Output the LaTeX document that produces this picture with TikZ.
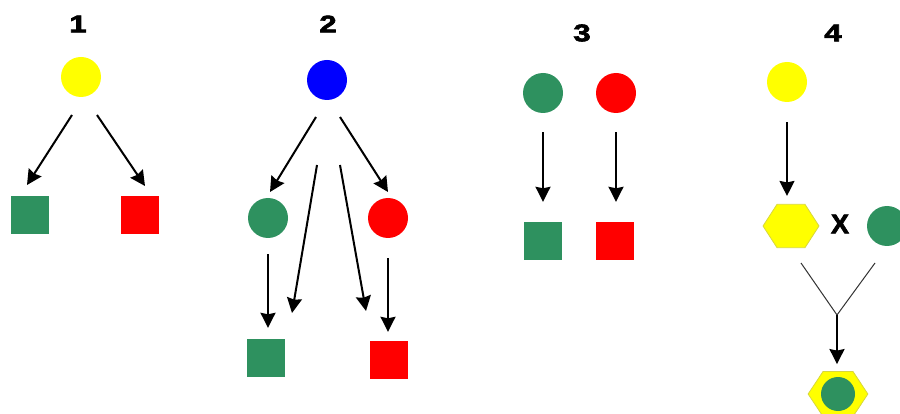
\documentclass[tikz,border=0pt]{standalone}
\usepackage{fontspec}
\setmainfont{Liberation Sans}
\newfontfamily\heavyfont[FakeBold=2.5]{Liberation Sans Bold}
\usetikzlibrary{shapes.geometric, arrows.meta, positioning, calc}
\definecolor{dotYellow}{RGB}{255, 255, 0}
\definecolor{dotGreen}{RGB}{46, 145, 95}
\definecolor{dotRed}{RGB}{255, 0, 0}
\definecolor{dotBlue}{RGB}{0, 0, 255}
\definecolor{hexEdge}{RGB}{215, 215, 60}
\newcommand{\wide}[1]{\scalebox{1.3}[1]{#1}}

\begin{document}
\begin{tikzpicture}[
    x=1pt, y=-1pt,
    dot/.style={
        circle,
        minimum size=40pt,
        inner sep=0pt
    },
    block/.style={
        rectangle,
        minimum size=38pt,
        inner sep=0pt
    },
    hexa/.style={
        regular polygon,
        regular polygon sides=6,
        minimum size=50pt,
        inner sep=0pt,
        fill=dotYellow,
        draw=hexEdge,
        line width=0.8pt,
        transform shape
    },
    num/.style={
        font=\fontsize{24}{24}\heavyfont,
        inner sep=0pt
    },
    arrow/.style={
        line width=2pt,
        -{Stealth[length=15pt, width=15pt, inset=1.5pt]}
    },
    forkline/.style={
        line width=1pt,
        draw=black!80
    }
]

\useasboundingbox (0,0) rectangle (900,414);

% Panel 1
\node[num] (n1) at (78,24) {\wide{1}};
\node[dot, fill=dotYellow] (y1) at (81,77) {};
\node[block, fill=dotGreen] (g1) at (30,215) {};
\node[block, fill=dotRed] (r1) at (140,215) {};
\coordinate (y1l) at (72,115);
\coordinate (g1t) at (27,185);
\coordinate (y1r) at (97,115);
\coordinate (r1t) at (145,186);
\draw[arrow] (y1l) -- (g1t);
\draw[arrow] (y1r) -- (r1t);

% Panel 2
\node[num] (n2) at (328,24) {\wide{2}};
\node[dot, fill=dotBlue] (b2) at (327,80) {};
\node[dot, fill=dotGreen] (g2) at (268,218) {};
\node[dot, fill=dotRed] (r2) at (388,218) {};
\node[block, fill=dotGreen] (gs2) at (266,358) {};
\node[block, fill=dotRed] (rs2) at (389,360) {};
\coordinate (b2l) at (316,117);
\coordinate (g2t) at (270,192);
\coordinate (b2r) at (340,117);
\coordinate (r2t) at (388,192);
\coordinate (b2ll) at (317,165);
\coordinate (gs2e) at (292,313);
\coordinate (b2rr) at (340,165);
\coordinate (rs2e) at (366,311);
\draw[arrow] (b2l) -- (g2t);
\draw[arrow] (b2r) -- (r2t);
\draw[arrow] (b2ll) -- (gs2e);
\draw[arrow] (b2rr) -- (rs2e);
\draw[arrow, shorten <=16pt, shorten >=11pt] (g2.south) -- (g2.south |- gs2.north);
\draw[arrow, shorten <=20pt, shorten >=9pt] (r2.south) -- (r2.south |- rs2.north);

% Panel 3
\node[num] (n3) at (582,33) {\wide{3}};
\node[dot, fill=dotGreen] (g3) at (543,93) {};
\node[dot, fill=dotRed] (r3) at (616,93) {};
\node[block, fill=dotGreen] (gs3) at (543,241) {};
\node[block, fill=dotRed] (rs3) at (615,241) {};
\draw[arrow, shorten <=19pt, shorten >=20pt] (g3.south) -- (g3.south |- gs3.north);
\draw[arrow, shorten <=19pt, shorten >=20pt] (r3.south) -- (r3.south |- rs3.north);

% Panel 4
\node[num] (n4) at (833,33) {\wide{4}};
\node[dot, fill=dotYellow] (y4) at (787,82) {};
\begin{scope}[shift={(791,226)}, xscale=1.12]
  \node[hexa] (h4) at (0,0) {};
\end{scope}
\node[num, font=\fontsize{27}{27}\heavyfont] (x4) at (840,224) {X};
\node[dot, fill=dotGreen] (g4) at (887,226) {};
\draw[arrow, shorten <=20pt, shorten >=8pt] (y4.south) -- (y4.south |- h4.north);

\coordinate (forkL) at (801,263);
\coordinate (forkR) at (875,263);
\coordinate (fork) at (837,315);
\draw[forkline] (forkL) -- (fork) -- (forkR);

\begin{scope}[shift={(838,394)}, xscale=1.15]
  \node[hexa, minimum size=52pt] (h5) at (0,0) {};
\end{scope}
\node[dot, fill=dotGreen, minimum size=34pt] (g5) at (h5.center) {};
\draw[arrow, shorten >=7pt] (fork) -- (fork |- h5.north);

\end{tikzpicture}
\end{document}
